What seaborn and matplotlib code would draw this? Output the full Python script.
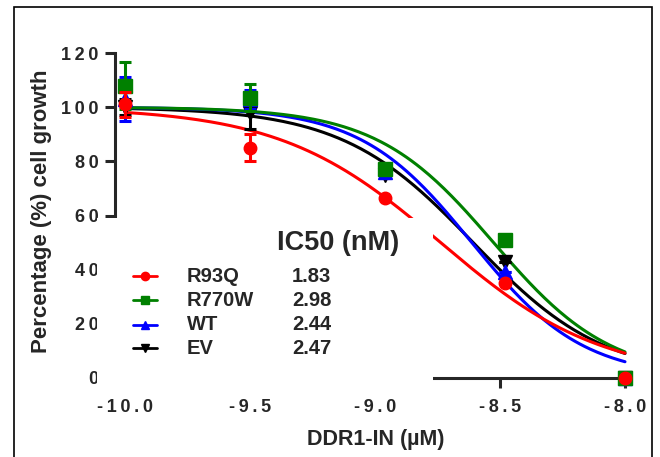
import numpy as np
import pandas as pd
import matplotlib
matplotlib.use("Agg")
import matplotlib.pyplot as plt
from matplotlib.patches import Rectangle
from matplotlib.lines import Line2D
import seaborn as sns

# log10 concentration (M) of the measured points
log_conc = [-10.0, -9.5, -8.96, -8.48, -8.0]

groups = ["R93Q", "R770W", "WT", "EV"]
colors = {"R93Q": "#ff0000", "R770W": "#008000", "WT": "#0000ff", "EV": "#000000"}
markers = {"R93Q": "o", "R770W": "s", "WT": "^", "EV": "v"}

# mean % growth and SD
means = {
    "R93Q": [101, 85, 66.5, 35, 0],
    "R770W": [108, 103.5, 77, 51, 0],
    "WT": [103, 103, 76, 39, 0],
    "EV": [100, 98, 75, 43, 0],
}
sds = {
    "R93Q": [4.5, 5, 0, 0, 0],
    "R770W": [8.5, 5, 1, 0, 0],
    "WT": [8, 3.5, 1, 0, 0],
    "EV": [3, 6, 1, 0, 0],
}

# fit parameters (IC50 in nM from the legend, hill slope estimated from the curves)
ic50_nm = {"R93Q": 1.83, "R770W": 2.98, "WT": 2.44, "EV": 2.47}
hill = {"R93Q": 1.35, "R770W": 1.85, "WT": 1.95, "EV": 1.65}
top, bottom = 100, 0

# Prism-style spaced tick labels
xticks = [-10.0, -9.5, -9.0, -8.5, -8.0]
xtick_labels = ["-10.0", "-9.5", "-9.0", "-8.5", "-8.0"]
yticks = [0, 20, 40, 60, 80, 100, 120]
ytick_labels = ["0", "20", "40", "60", "80", "100", "120"]

def spaced(s):
    return "\u2009".join(s)

sns.set_style("ticks")
plt.rcParams['font.family'] = ['Liberation Sans', 'DejaVu Sans']
plt.rcParams['font.weight'] = 'bold'

fig = plt.figure(figsize=(6.6, 4.57), dpi=100)
ax = fig.add_axes([115 / 660, 79 / 457, 510 / 660, 325 / 457])

# fitted 4PL curves
xs = np.linspace(-10.0, -8.0, 200)
rows = []
for g in groups:
    logic = np.log10(ic50_nm[g] * 1e-9)
    ys = bottom + (top - bottom) / (1 + 10 ** ((xs - logic) * hill[g]))
    rows.append(pd.DataFrame({"x": xs, "y": ys, "group": g}))
curves = pd.concat(rows)

order_draw = ["EV", "WT", "R770W", "R93Q"]
for i, g in enumerate(order_draw):
    sub = curves[curves["group"] == g]
    sns.lineplot(data=sub, x="x", y="y", color=colors[g], lw=2.2, ax=ax,
                 zorder=2 + i, clip_on=False)
    ax.errorbar(log_conc, means[g], yerr=sds[g], fmt=markers[g], color=colors[g],
                ms=9 if g == "R93Q" else 9.5, elinewidth=2.2, capsize=4.5,
                capthick=2.2, zorder=6 + i, clip_on=False)

ax.set_xlim(-10.04, -8.0)
ax.set_ylim(0, 120)
ax.set_xticks(xticks)
ax.set_xticklabels([spaced(t) for t in xtick_labels])
ax.set_yticks(yticks)
ax.set_yticklabels([spaced(t) for t in ytick_labels])
sns.despine(ax=ax)
for s in ["left", "bottom"]:
    ax.spines[s].set_linewidth(2.2)
ax.tick_params(width=2.2, length=7, labelsize=13, pad=5)
ax.tick_params(axis="x", pad=8)
for lab in ax.get_xticklabels() + ax.get_yticklabels():
    lab.set_fontweight("bold")
ax.set_xlabel("")
ax.set_ylabel("")

fig.text(376 / 660, 1 - 440 / 457, "DDR1-IN (µM)", ha="center", va="center",
         fontsize=15.5, fontweight="bold")
fig.text(42 / 660, 1 - 211 / 457, "Percentage (%) cell growth", ha="center", va="center",
         rotation=90, fontsize=16, fontweight="bold")

# white legend box covering the lower left of the plot
fig.add_artist(Rectangle((97 / 660, 1 - 392 / 457), (433 - 97) / 660, (392 - 218) / 457,
                         transform=fig.transFigure, facecolor="white", edgecolor="none",
                         zorder=20))
fig.text(338 / 660, 1 - 243 / 457, "IC50 (nM)", ha="center", va="center",
         fontsize=19.5, fontweight="bold", zorder=21)
row_y = [276, 300, 325, 348]
for g, yy in zip(groups, row_y):
    yf = 1 - yy / 457
    fig.add_artist(Line2D([133 / 660, 145 / 660, 157 / 660], [yf, yf, yf],
                          transform=fig.transFigure, color=colors[g], lw=2,
                          marker=markers[g], ms=6, markevery=[1], zorder=21))
    fig.text(187 / 660, yf, g, ha="left", va="center", fontsize=14.5,
             fontweight="bold", zorder=21)
    fig.text(292 / 660, yf, f"{ic50_nm[g]:.2f}", ha="left", va="center", fontsize=14.5,
             fontweight="bold", zorder=21)

# outer frame
fig.add_artist(Rectangle((14 / 660, -0.02), (652 - 14) / 660, 1.02 - 7 / 457,
                         transform=fig.transFigure, facecolor="none", edgecolor="black",
                         lw=1.2, zorder=30))

fig.savefig("out.png", dpi=100)
